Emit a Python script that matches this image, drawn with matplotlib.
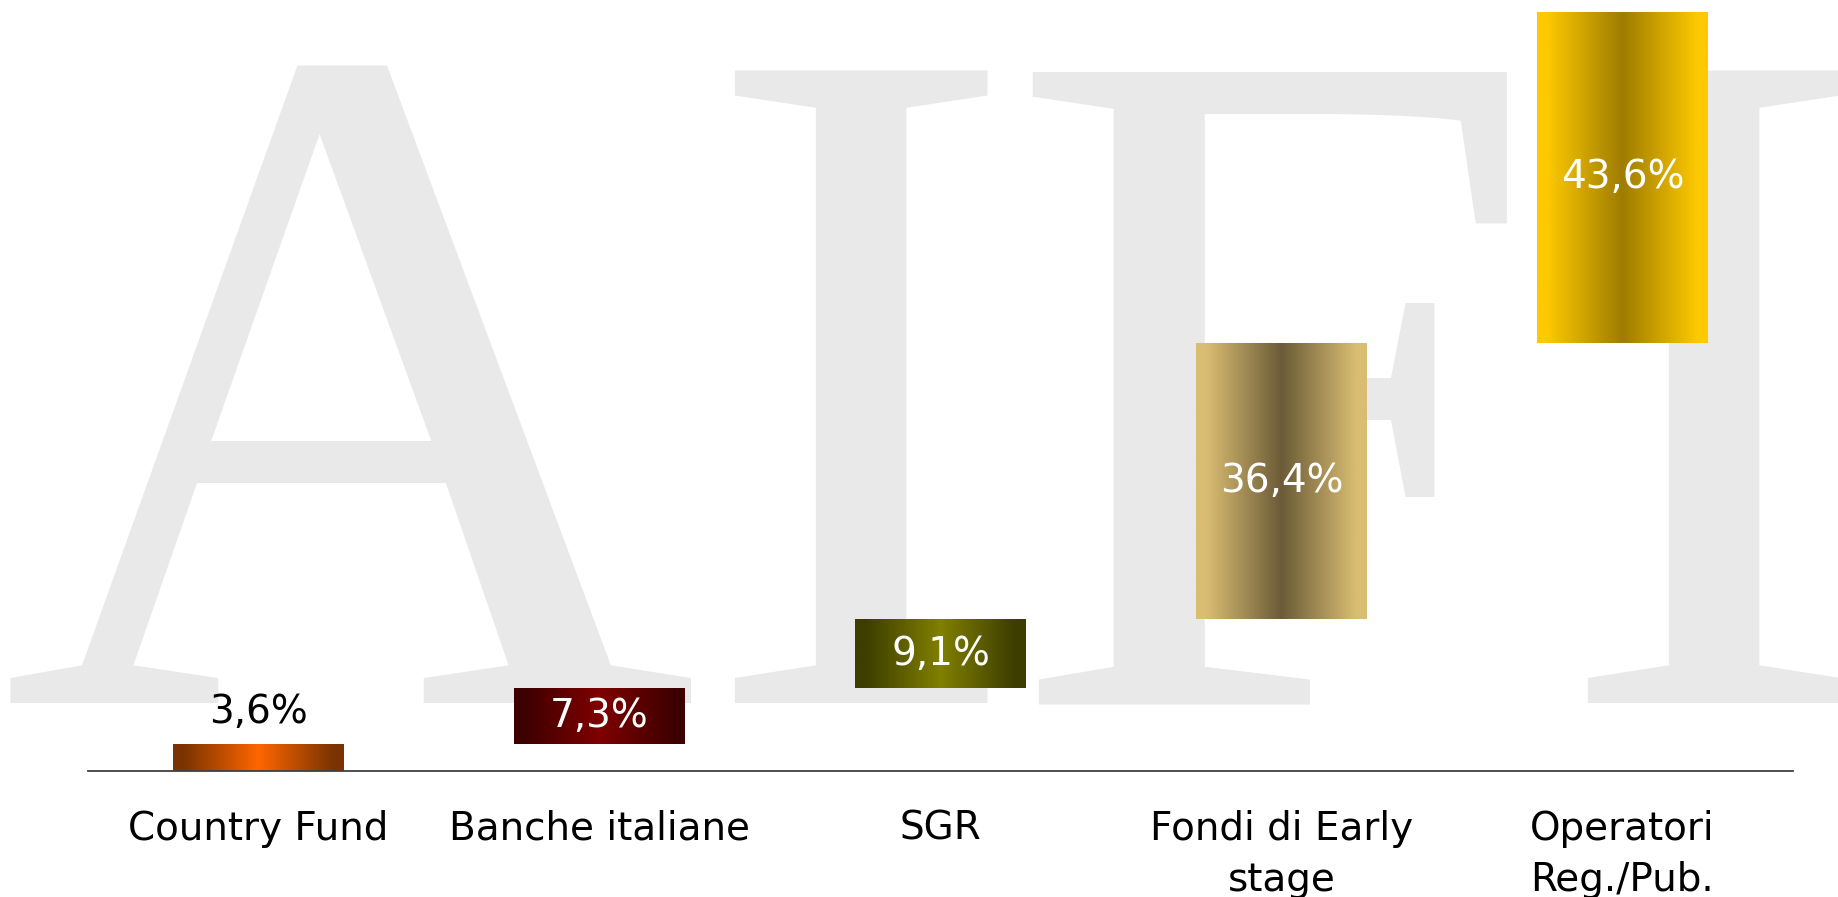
import numpy as np
import matplotlib
matplotlib.use("Agg")
import matplotlib.pyplot as plt
from matplotlib.colors import LinearSegmentedColormap
from matplotlib import font_manager

# ---- data ----
categories = ["Country Fund", "Banche italiane", "SGR", "Fondi di Early\nstage", "Operatori\nReg./Pub."]
values = [3.6, 7.3, 9.1, 36.4, 43.6]
edge_colors = ["#7a3300", "#3d0000", "#3d3d00", "#d9bd72", "#fdc900"]
center_colors = ["#ff6600", "#800000", "#808000", "#6b5b37", "#9e7c00"]
label_colors = ["black", "white", "white", "white", "white"]
watermark = "AIFI"

# find a Times-like serif font file for the watermark
serif_prop = None
for f in font_manager.findSystemFonts():
    name = f.split("/")[-1]
    if name.startswith("LiberationSerif-Regular"):
        serif_prop = font_manager.FontProperties(fname=f)
        break
if serif_prop is None:
    serif_prop = font_manager.FontProperties(family=["Liberation Serif", "DejaVu Serif"])
serif_prop.set_size(695)

W, H, DPI = 1838, 897, 100
fig = plt.figure(figsize=(W / DPI, H / DPI), dpi=DPI)
fig.patch.set_facecolor("white")
ax = fig.add_axes([88 / W, 126 / H, (1793 - 88) / W, 771 / H])
ax.set_facecolor("none")

# watermark letters (decorative background)
wm_x = [349, 860, 1273, 1713]
for ch, xp in zip(watermark, wm_x):
    ax.text(xp / W, (H - 703) / H, ch, transform=fig.transFigure, ha="center", va="baseline",
            fontproperties=serif_prop, color="#e9e9e9", zorder=0.5, clip_on=False)

bottoms = np.concatenate([[0], np.cumsum(values)[:-1]])
x = np.arange(len(values))
bars = ax.bar(x, values, width=0.5, bottom=bottoms, color="none", edgecolor="none", zorder=2)

grad = np.linspace(0, 1, 256).reshape(1, -1)
for bar, ec, cc in zip(bars, edge_colors, center_colors):
    cmap = LinearSegmentedColormap.from_list(
        "g", [(0, ec), (0.06, ec), (0.5, cc), (0.94, ec), (1, ec)])
    x0, y0 = bar.get_x(), bar.get_y()
    im = ax.imshow(grad, cmap=cmap, aspect="auto", interpolation="bilinear",
                   extent=[x0, x0 + bar.get_width(), y0, y0 + bar.get_height()], zorder=2)
    im.set_clip_path(bar)

for i, (bar, v, lc) in enumerate(zip(bars, values, label_colors)):
    txt = f"{v:.1f}".replace(".", ",") + "%"
    cx = bar.get_x() + bar.get_width() / 2
    if i == 0:
        ax.annotate(txt, (cx, bar.get_y() + bar.get_height()), xytext=(0, 23),
                    textcoords="offset points", ha="center", va="center",
                    fontsize=28, color=lc, zorder=3)
    else:
        ax.text(cx, bar.get_y() + bar.get_height() / 2, txt, ha="center", va="center",
                fontsize=28, color=lc, zorder=3)

ax.set_xlim(-0.5, 4.5)
ax.set_ylim(0, 100 * 771 / 759)
ax.set_xticks(x, categories)
ax.tick_params(axis="x", length=0, pad=28, labelsize=28)
for t in ax.get_xticklabels():
    t.set_linespacing(1.45)
ax.set_yticks([])
for s in ["top", "left", "right"]:
    ax.spines[s].set_visible(False)
ax.spines["bottom"].set_color("#404040")
ax.spines["bottom"].set_linewidth(1.3)

fig.savefig("out.png", dpi=DPI)
